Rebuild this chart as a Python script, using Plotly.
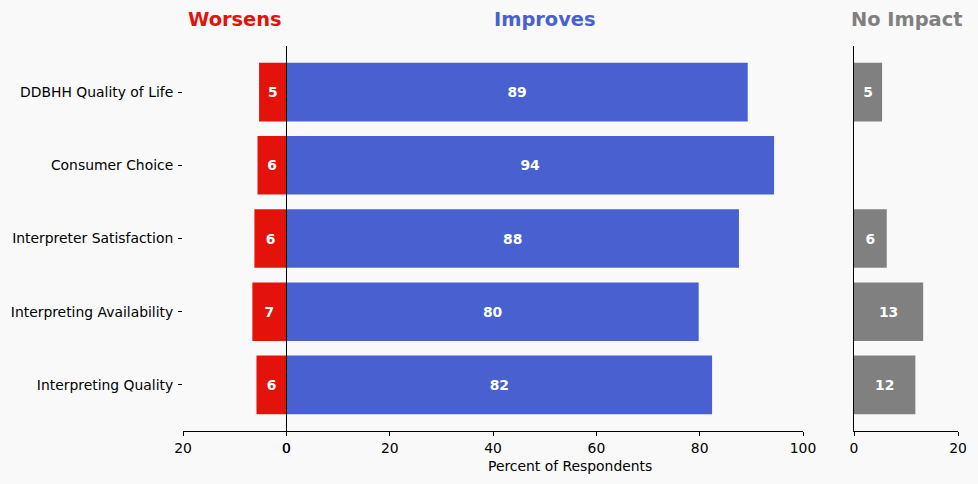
import plotly.graph_objects as go
from plotly.subplots import make_subplots

categories = ["Interpreting Quality", "Interpreting Availability", "Interpreter Satisfaction",
              "Consumer Choice", "DDBHH Quality of Life"]
worsens = [5.8, 6.6, 6.2, 5.6, 5.3]
improves = [82.4, 79.8, 87.6, 94.4, 89.3]
no_impact = [11.8, 13.3, 6.3, 0, 5.4]

worsens_ticks = [20, 0]
improves_ticks = [0, 20, 40, 60, 80, 100]
noimpact_ticks = [0, 20]

RED = "#e3120b"
BLUE = "#4860d0"
GREY = "#808080"
BG = "#f9f9f9"
FONT = "DejaVu Sans"
FS = 13.9

W, H = 978, 484

fig = make_subplots(rows=1, cols=3, shared_yaxes=False)

def labels(vals):
    return [f"{v:.0f}" if v > 0 else "" for v in vals]

bar_kw = dict(orientation="h", width=0.8, textposition="inside", insidetextanchor="middle",
              textfont=dict(color="white", size=FS, family=FONT, weight="bold"),
              showlegend=False, hoverinfo="skip", cliponaxis=False)

fig.add_trace(go.Bar(y=categories, x=worsens, marker=dict(color=RED, line=dict(width=0)),
                     text=labels(worsens), **bar_kw), row=1, col=1)
fig.add_trace(go.Bar(y=categories, x=improves, marker=dict(color=BLUE, line=dict(width=0)),
                     text=labels(improves), **bar_kw), row=1, col=2)
fig.add_trace(go.Bar(y=categories, x=no_impact, marker=dict(color=GREY, line=dict(width=0)),
                     text=labels(no_impact), **bar_kw), row=1, col=3)

def px(p):
    return p / W

tickfont = dict(family=FONT, size=FS, color="black")
xcommon = dict(showline=True, linecolor="black", linewidth=1, ticks="outside", ticklen=4,
               tickcolor="black", showgrid=False, zeroline=False, tickfont=tickfont,
               automargin=False)

fig.update_layout(
    xaxis=dict(domain=[px(183), px(286.5)], range=[20, 0], tickvals=worsens_ticks, **xcommon),
    xaxis2=dict(domain=[px(286.5), px(803)], range=[0, 100], tickvals=improves_ticks, **xcommon),
    xaxis3=dict(domain=[px(854), px(958)], range=[0, 20], tickvals=noimpact_ticks, **xcommon),
)

yrange = [-0.63, 4.63]
fig.update_yaxes(range=yrange, showgrid=False, zeroline=False, categoryorder="array",
                 categoryarray=categories, automargin=False)
fig.update_yaxes(row=1, col=1, showline=False, ticks="outside", ticklen=4, tickcolor="black",
                 tickfont=tickfont, showticklabels=True, ticklabelstandoff=2)
fig.update_yaxes(row=1, col=2, showline=True, linecolor="black", linewidth=1, showticklabels=False, ticks="")
fig.update_yaxes(row=1, col=3, showline=True, linecolor="black", linewidth=1, showticklabels=False, ticks="")

title_font = dict(family=FONT, size=19.4, weight="bold")
annots = [
    dict(text="Worsens", x=0.5, xref="x domain", color=RED),
    dict(text="Improves", x=0.5, xref="x2 domain", color=BLUE),
    dict(text="No Impact", x=0.5, xref="x3 domain", color=GREY),
]
for a in annots:
    fig.add_annotation(text=a["text"], x=a["x"], xref=a["xref"], y=1.0, yref="paper",
                       yshift=27, showarrow=False, xanchor="center", yanchor="middle",
                       font=dict(color=a["color"], **title_font))

# x-axis label (placed like the original, slightly right of the Improves panel center)
fig.add_annotation(text="Percent of Respondents", x=px(570), xref="paper", y=0, yref="paper",
                   yshift=-35, showarrow=False, xanchor="center", yanchor="middle",
                   font=dict(family=FONT, size=FS, color="black"))

fig.update_layout(
    width=W, height=H,
    margin=dict(l=0, r=0, t=46, b=53, autoexpand=False),
    paper_bgcolor=BG, plot_bgcolor=BG,
    bargap=0.2,
    font=dict(family=FONT, color="black"),
)

fig.write_html("out.html", config={"displayModeBar": False},
               post_script="document.body.style.margin='0';document.body.style.padding='0';"
                           "document.body.style.background='#f9f9f9';")
